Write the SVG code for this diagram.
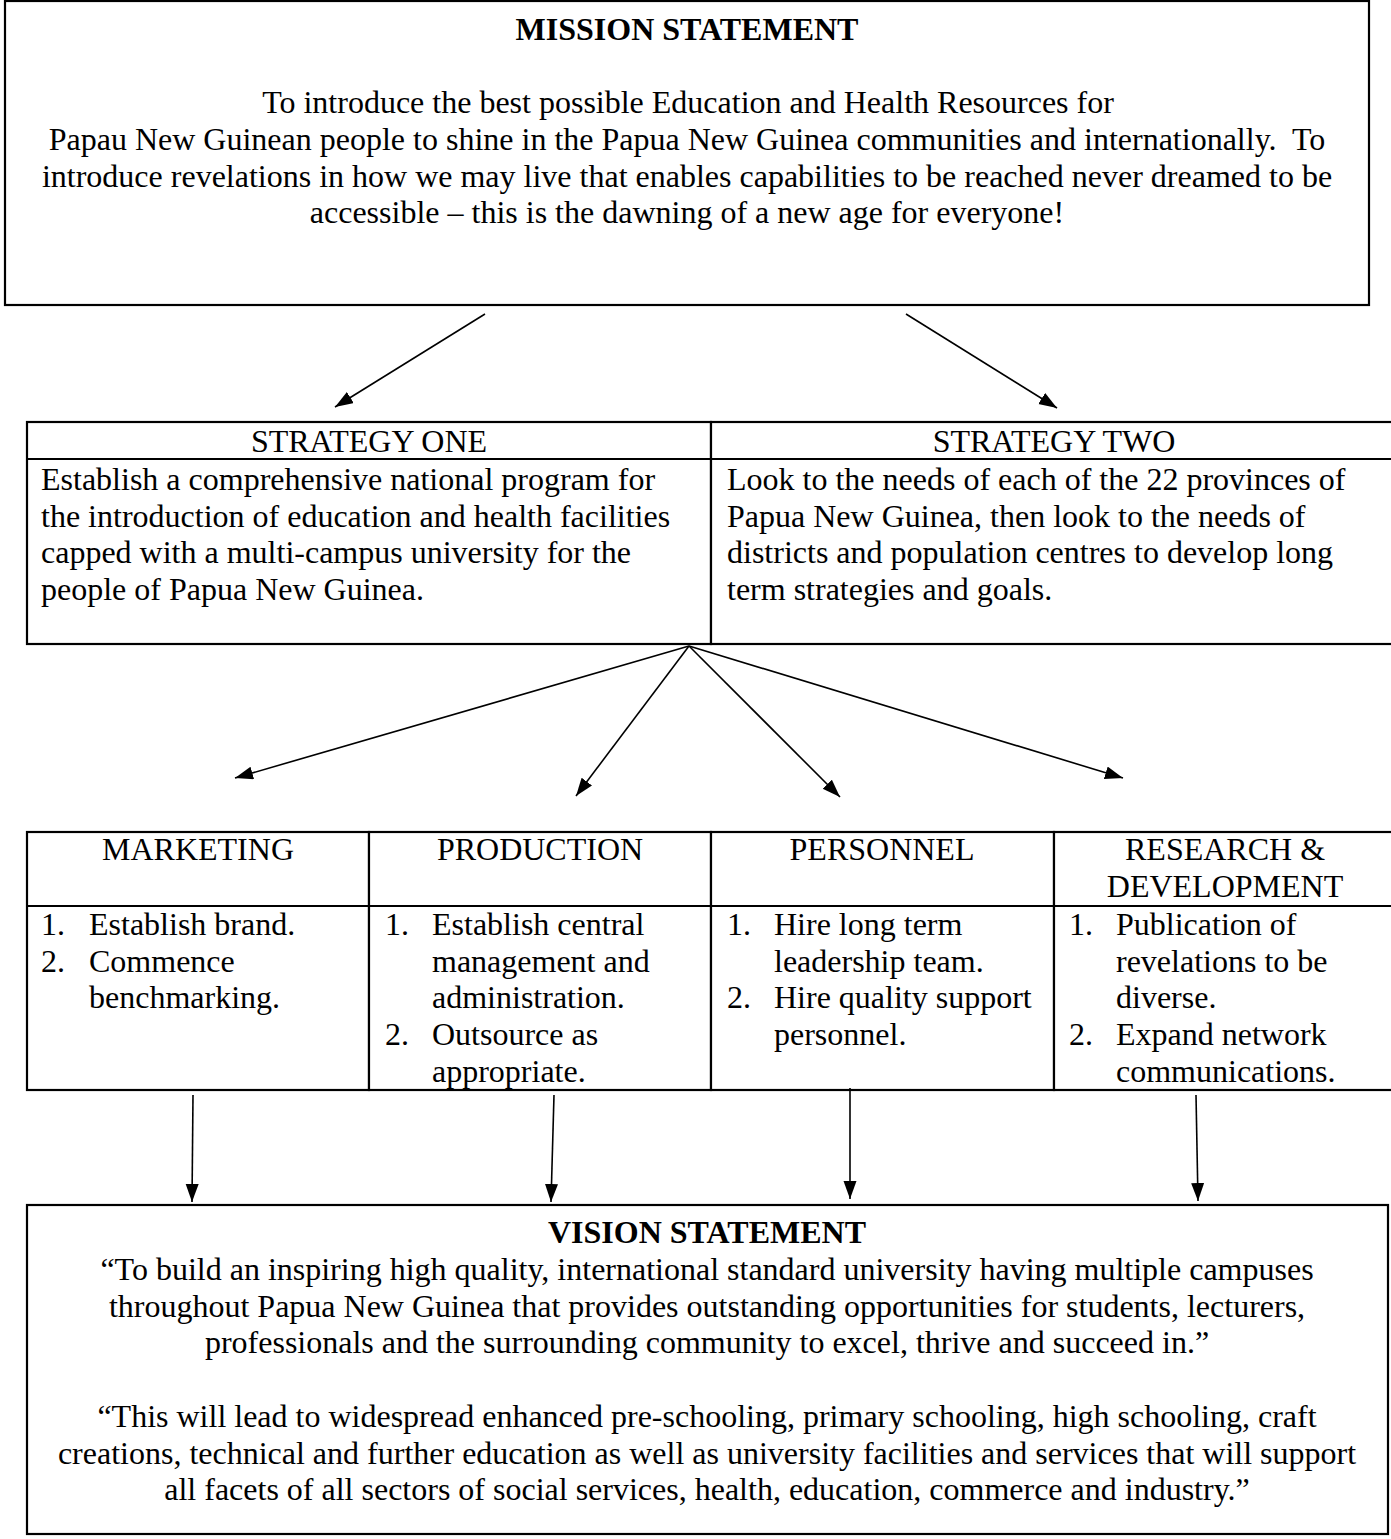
<svg xmlns="http://www.w3.org/2000/svg" width="1391" height="1539" viewBox="0 0 1391 1539">
<style>
  text { font-family: "Liberation Serif", "Times New Roman", serif; font-size: 32px; fill: #000; }
  .b { font-weight: bold; }
  .c { text-anchor: middle; }
  .box { fill: #fff; stroke: #000; stroke-width: 2.2; }
  .div { stroke: #000; stroke-width: 2.2; fill: none; }
  .conn line { stroke: #000; stroke-width: 1.6; marker-end: url(#ah); }
</style>
<defs>
  <marker id="ah" markerUnits="userSpaceOnUse" markerWidth="20" markerHeight="14" refX="18" refY="6.5" orient="auto">
    <path d="M0,0 L18,6.5 L0,13 z" fill="#000"/>
  </marker>
</defs>
<rect x="0" y="0" width="1391" height="1539" fill="#fff"/>

<g id="mission">
  <rect class="box" x="5" y="1" width="1364" height="304"/>
  <text class="b c" x="687" y="40">MISSION STATEMENT</text>
  <text class="c" x="688" y="113">To introduce the best possible Education and Health Resources for</text>
  <text class="c" x="687" y="150">Papau New Guinean people to shine in the Papua New Guinea communities and internationally.&#160; To</text>
  <text class="c" x="687" y="187">introduce revelations in how we may live that enables capabilities to be reached never dreamed to be</text>
  <text class="c" x="687" y="223">accessible – this is the dawning of a new age for everyone!</text>
</g>

<g id="strategy-one">
  <rect class="box" x="27" y="422" width="684" height="222"/>
  <line class="div" x1="27" y1="459" x2="711" y2="459"/>
  <text class="c" x="369" y="452">STRATEGY ONE</text>
  <text x="41" y="490">Establish a comprehensive national program for</text>
  <text x="41" y="527">the introduction of education and health facilities</text>
  <text x="41" y="563">capped with a multi-campus university for the</text>
  <text x="41" y="600">people of Papua New Guinea.</text>
</g>

<g id="strategy-two">
  <rect class="box" x="711" y="422" width="690" height="222"/>
  <line class="div" x1="711" y1="459" x2="1401" y2="459"/>
  <text class="c" x="1054" y="452">STRATEGY TWO</text>
  <text x="727" y="490">Look to the needs of each of the 22 provinces of</text>
  <text x="727" y="527">Papua New Guinea, then look to the needs of</text>
  <text x="727" y="563">districts and population centres to develop long</text>
  <text x="727" y="600">term strategies and goals.</text>
</g>

<g id="marketing">
  <rect class="box" x="27" y="832" width="342" height="258"/>
  <line class="div" x1="27" y1="906" x2="369" y2="906"/>
  <text class="c" x="198" y="860">MARKETING</text>
  <text x="41" y="935">1.</text><text x="89" y="935">Establish brand.</text>
  <text x="41" y="972">2.</text><text x="89" y="972">Commence</text>
  <text x="89" y="1008">benchmarking.</text>
</g>

<g id="production">
  <rect class="box" x="369" y="832" width="342" height="258"/>
  <line class="div" x1="369" y1="906" x2="711" y2="906"/>
  <text class="c" x="540" y="860">PRODUCTION</text>
  <text x="385" y="935">1.</text><text x="432" y="935">Establish central</text>
  <text x="432" y="972">management and</text>
  <text x="432" y="1008">administration.</text>
  <text x="385" y="1045">2.</text><text x="432" y="1045">Outsource as</text>
  <text x="432" y="1082">appropriate.</text>
</g>

<g id="personnel">
  <rect class="box" x="711" y="832" width="343" height="258"/>
  <line class="div" x1="711" y1="906" x2="1054" y2="906"/>
  <text class="c" x="882" y="860">PERSONNEL</text>
  <text x="727" y="935">1.</text><text x="774" y="935">Hire long term</text>
  <text x="774" y="972">leadership team.</text>
  <text x="727" y="1008">2.</text><text x="774" y="1008">Hire quality support</text>
  <text x="774" y="1045">personnel.</text>
</g>

<g id="research">
  <rect class="box" x="1054" y="832" width="347" height="258"/>
  <line class="div" x1="1054" y1="906" x2="1401" y2="906"/>
  <text class="c" x="1225" y="860">RESEARCH &amp;</text>
  <text class="c" x="1225" y="897">DEVELOPMENT</text>
  <text x="1069" y="935">1.</text><text x="1116" y="935">Publication of</text>
  <text x="1116" y="972">revelations to be</text>
  <text x="1116" y="1008">diverse.</text>
  <text x="1069" y="1045">2.</text><text x="1116" y="1045">Expand network</text>
  <text x="1116" y="1082">communications.</text>
</g>

<g id="vision">
  <rect class="box" x="27" y="1205" width="1361" height="329"/>
  <text class="b c" x="707" y="1243">VISION STATEMENT</text>
  <text class="c" x="707" y="1280">“To build an inspiring high quality, international standard university having multiple campuses</text>
  <text class="c" x="707" y="1317">throughout Papua New Guinea that provides outstanding opportunities for students, lecturers,</text>
  <text class="c" x="707" y="1353">professionals and the surrounding community to excel, thrive and succeed in.”</text>
  <text class="c" x="707" y="1427">“This will lead to widespread enhanced pre-schooling, primary schooling, high schooling, craft</text>
  <text class="c" x="707" y="1464">creations, technical and further education as well as university facilities and services that will support</text>
  <text class="c" x="707" y="1500">all facets of all sectors of social services, health, education, commerce and industry.”</text>
</g>

<g id="connectors" class="conn">
  <line x1="485" y1="314" x2="335" y2="407"/>
  <line x1="906" y1="314" x2="1057" y2="408"/>
  <line x1="689" y1="646" x2="235" y2="778"/>
  <line x1="689" y1="646" x2="576" y2="796"/>
  <line x1="689" y1="646" x2="840" y2="797"/>
  <line x1="689" y1="646" x2="1123" y2="778"/>
  <line x1="193" y1="1095" x2="192" y2="1202"/>
  <line x1="554" y1="1095" x2="551" y2="1202"/>
  <line x1="850" y1="1088" x2="850" y2="1199"/>
  <line x1="1196" y1="1095" x2="1198" y2="1201"/>
</g>
</svg>
